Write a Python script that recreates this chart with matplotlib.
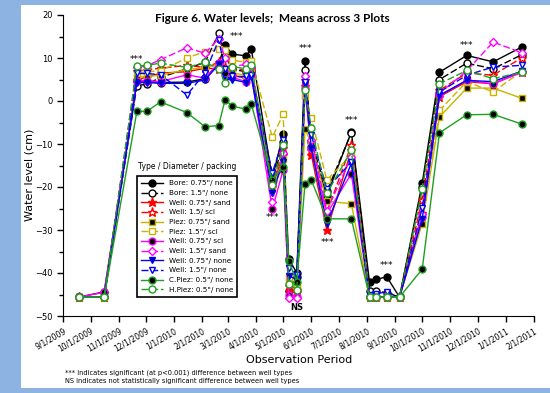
import pandas as pd
import matplotlib
matplotlib.use("Agg")
import matplotlib.pyplot as plt
from matplotlib.patches import Rectangle
from matplotlib.ticker import MultipleLocator

# sampling dates
dates = ['2009-09-18', '2009-10-16', '2009-11-21', '2009-12-02', '2009-12-17',
         '2010-01-15', '2010-02-04', '2010-02-19', '2010-02-26', '2010-03-06',
         '2010-03-21', '2010-03-27', '2010-04-19', '2010-05-01', '2010-05-07',
         '2010-05-16', '2010-05-25', '2010-06-01', '2010-06-18', '2010-07-15',
         '2010-08-04', '2010-08-11', '2010-08-23', '2010-09-06', '2010-10-01',
         '2010-10-20', '2010-11-19', '2010-12-18', '2011-01-19']

bore_075 = [-45.6, -44.4, 4.6, 4.6, 4.3, 4.4, 5.2, 8.8, 13.0, 10.9, 10.5, 12.0, -18.0, -7.6,
            -36.7, -40.0, 9.3, -10.7, -22.0, -7.2, -42.2, -41.5, -40.9, -45.6, -19.1,
            6.7, 10.6, 9.1, 12.6]
bore_15 = [-45.6, -45.6, 3.6, 3.9, 5.5, 7.5, 9.0, 15.7, 10.5, 7.4, 6.8, 7.5, -19.0, -9.5,
           -44.2, -41.0, 7.3, -9.5, -21.0, -7.4, -44.2, -44.2, -44.6, -45.6, -20.1,
           5.0, 8.8, 7.5, 10.8]
well_075_sand = [-45.6, -45.6, 5.0, 5.5, 6.5, 6.8, 7.6, 7.5, 7.5, 6.0, 5.3, 6.5, -20.0, -12.5,
                 -44.3, -44.5, 3.5, -12.5, -30.1, -11.5, -45.6, -45.6, -45.6, -45.6, -26.0,
                 1.0, 4.5, 4.0, 6.8]
well_15_scl = [-45.6, -45.6, 7.0, 7.3, 7.6, 8.3, 7.8, 9.0, 8.0, 7.8, 7.0, 7.2, -19.5, -11.0,
               -43.0, -44.0, 5.0, -11.5, -26.0, -10.2, -45.6, -45.6, -45.6, -45.6, -23.0,
               2.5, 6.5, 6.0, 10.1]
piez_075_sand = [-45.6, -45.6, 5.5, 5.7, 6.0, 7.3, 7.8, 8.5, 7.0, 6.5, 6.0, 7.0, -20.5, -13.5,
                 -42.0, -43.5, -6.4, -10.0, -23.3, -23.9, -45.6, -45.6, -45.6, -45.6, -28.5,
                 -3.7, 3.0, 3.0, 0.6]
piez_15_scl = [-45.6, -45.6, 6.5, 6.8, 7.0, 10.0, 11.5, 12.0, 11.8, 9.5, 9.0, 9.3, -8.4, -3.1,
               -41.0, -43.0, 1.2, -4.0, -18.4, -12.5, -45.6, -45.6, -45.6, -45.6, -27.0,
               -2.2, 4.5, 2.1, 7.0]
well_075_scl = [-45.6, -44.5, 4.6, 4.7, 4.5, 6.1, 5.3, 8.8, 6.5, 5.5, 4.5, 6.0, -25.2, -16.0,
                -45.0, -45.6, 3.0, -11.0, -26.2, -16.9, -45.6, -45.6, -45.6, -45.6, -27.0,
                1.3, 4.8, 4.0, 6.7]
well_15_sand = [-45.6, -45.6, 7.8, 8.2, 9.6, 12.4, 11.1, 14.5, 10.0, 8.0, 8.5, 8.0, -23.5, -12.0,
                -45.7, -45.7, 5.7, -9.1, -25.5, -13.0, -45.6, -45.6, -45.6, -45.6, -26.2,
                1.8, 7.0, 13.7, 11.2]
well_075_none = [-45.6, -45.6, 4.3, 4.3, 4.1, 4.1, 4.9, 8.5, 5.0, 5.0, 4.3, 5.5, -21.4, -14.2,
                 -40.7, -41.5, 4.0, -11.0, -28.5, -14.5, -45.6, -45.6, -45.6, -45.6, -27.4,
                 1.3, 4.8, 4.5, 7.0]
well_15_none = [-45.6, -45.6, 6.4, 6.4, 6.1, 1.4, 6.5, 14.2, 7.5, 5.7, 5.7, 6.0, -16.7, -9.0,
                -38.8, -40.5, 4.4, -8.0, -20.4, -14.2, -45.0, -44.8, -44.4, -45.6, -24.8,
                2.1, 6.0, 7.9, 8.3]
cpiez_05 = [-45.6, -45.6, -2.4, -2.4, -0.2, -2.7, -6.0, -5.7, 0.3, -1.2, -1.9, -0.8, -18.4, -15.3,
            -37.2, -42.0, -19.2, -18.4, -27.4, -27.4, -45.6, -45.6, -45.6, -45.6, -39.1,
            -7.4, -3.2, -3.1, -5.4]
hpiez_05 = [-45.6, -45.6, 8.1, 8.3, 8.8, 7.8, 9.0, 7.5, 4.3, 8.0, 7.5, 8.3, -19.6, -10.3,
            -42.5, -44.0, 2.6, -6.3, -21.5, -11.5, -45.6, -45.6, -45.6, -45.6, -20.4,
            4.0, 7.1, 5.2, 6.7]

labels = ['Bore: 0.75"/ none', 'Bore: 1.5"/ none', 'Well: 0.75"/ sand', 'Well: 1.5/ scl',
          'Piez: 0.75"/ sand', 'Piez: 1.5"/ scl', 'Well: 0.75"/ scl', 'Well: 1.5"/ sand',
          'Well: 0.75"/ none', 'Well: 1.5"/ none', 'C.Piez: 0.5"/ none', 'H.Piez: 0.5"/ none']

tick_dates = ['2009-09-01', '2009-10-01', '2009-11-01', '2009-12-01', '2010-01-01',
              '2010-02-01', '2010-03-01', '2010-04-01', '2010-05-01', '2010-06-01',
              '2010-07-01', '2010-08-01', '2010-09-01', '2010-10-01', '2010-11-01',
              '2010-12-01', '2011-01-01', '2011-02-01']
tick_labels = ['9/1/2009', '10/1/2009', '11/1/2009', '12/1/2009', '1/1/2010', '2/1/2010',
               '3/1/2010', '4/1/2010', '5/1/2010', '6/1/2010', '7/1/2010', '8/1/2010',
               '9/1/2010', '10/1/2010', '11/1/2010', '12/1/2010', '1/1/2011', '2/1/2011']

# significance marks: date, level, text
note_dates = ['2009-11-21', '2010-03-11', '2010-04-19', '2010-05-25', '2010-06-19',
              '2010-07-15', '2010-08-23', '2010-11-19', '2010-05-16']
note_levels = [9.6, 15.1, -27.0, 12.3, -33.0, -4.5, -38.2, 12.9, -48.1]
note_texts = ['***', '***', '***', '***', '***', '***', '***', '***', 'NS']

YEL = '#c8b400'
GRN = '#1ea01e'
BLU = '#0000ff'
MAG = '#ff00ff'
RED = '#ff0000'
dash = (0, (5, 2))
styles = [
    dict(color='black', ls='-', marker='o', mfc='black', mec='black'),
    dict(color='black', ls=dash, marker='o', mfc='white', mec='black'),
    dict(color=RED, ls='-', marker='*', mfc=RED, mec=RED),
    dict(color=RED, ls=dash, marker='*', mfc='white', mec=RED),
    dict(color=YEL, ls='-', marker='s', mfc='black', mec=YEL),
    dict(color=YEL, ls=dash, marker='s', mfc='white', mec=YEL),
    dict(color=MAG, ls='-', marker='o', mfc='black', mec=MAG),
    dict(color=MAG, ls=dash, marker='D', mfc='white', mec=MAG),
    dict(color=BLU, ls='-', marker='v', mfc='#000090', mec=BLU),
    dict(color=BLU, ls=dash, marker='v', mfc='white', mec=BLU),
    dict(color=GRN, ls='-', marker='o', mfc='black', mec=GRN),
    dict(color=GRN, ls=dash, marker='o', mfc='white', mec=GRN),
]
series = [bore_075, bore_15, well_075_sand, well_15_scl, piez_075_sand, piez_15_scl,
          well_075_scl, well_15_sand, well_075_none, well_15_none, cpiez_05, hpiez_05]

fig = plt.figure(figsize=(5.5, 3.93), dpi=100, facecolor='#8db3e2')
# white page area inside the blue frame
fig.patches.append(Rectangle((21 / 550, 5 / 393), 1, (388 - 5) / 393,
                             transform=fig.transFigure, facecolor='white',
                             edgecolor='none', zorder=-10))
ax = fig.add_axes([63.3 / 550, 1 - 316 / 393, 470.7 / 550, 301 / 393])
ax.set_facecolor('none')

x = pd.to_datetime(dates)
for vals, lab, st in zip(series, labels, styles):
    ms = 6.5 if st['marker'] == '*' else (4 if st['marker'] == 'D' else 5)
    ax.plot(x, vals, label=lab, lw=1, ms=ms, mew=1, **st)

for d, lev, t in zip(note_dates, note_levels, note_texts):
    ax.text(pd.to_datetime(d), lev, t, ha='center', va='center',
            fontsize=6 if t == 'NS' else 6.5, fontweight='bold' if t == 'NS' else 'normal')

ax.set_xlim(pd.to_datetime('2009-09-01'), pd.to_datetime('2011-02-01'))
ax.set_ylim(-50, 20)
ax.set_xticks(pd.to_datetime(tick_dates))
ax.set_xticklabels(tick_labels, rotation=30, ha='right', rotation_mode='anchor', fontsize=5.5)
ax.yaxis.set_major_locator(MultipleLocator(10))
ax.yaxis.set_minor_locator(MultipleLocator(5))
ax.tick_params(axis='y', labelsize=6)
ax.tick_params(direction='out', length=4, width=1)
ax.tick_params(which='minor', length=3, width=1)
ax.spines['top'].set_visible(False)
ax.spines['right'].set_visible(False)
ax.set_ylabel('Water level (cm)', fontsize=8)
ax.yaxis.set_label_coords(-0.062, 0.47)
ax.set_xlabel('Observation Period', fontsize=8)
ax.xaxis.set_label_coords(0.5, -0.13)

leg = ax.legend(loc='lower left', bbox_to_anchor=(0.157, 0.064), borderaxespad=0,
                fontsize=5.2, frameon=True, fancybox=False, edgecolor='black',
                framealpha=1, labelspacing=0.5, handlelength=3.0, borderpad=0.55,
                handletextpad=0.8)
leg.get_frame().set_linewidth(1.2)
ax.text(0.263, 0.496, 'Type / Diameter / packing', transform=ax.transAxes,
        ha='center', va='center', fontsize=5.5)

fig.text(272.5 / 550, 1 - 19 / 393, 'Figure 6. Water levels;  Means across 3 Plots',
         ha='center', va='center', fontsize=8.5, fontweight='bold', family='Lato')
fig.text(65 / 550, 1 - 373 / 393,
         '*** Indicates significant (at p<0.001) difference between well types',
         ha='left', va='center', fontsize=4.8)
fig.text(65 / 550, 1 - 381.5 / 393,
         'NS indicates not statistically significant difference between well types',
         ha='left', va='center', fontsize=4.8)

fig.savefig('out.png', dpi=100, facecolor=fig.get_facecolor())
